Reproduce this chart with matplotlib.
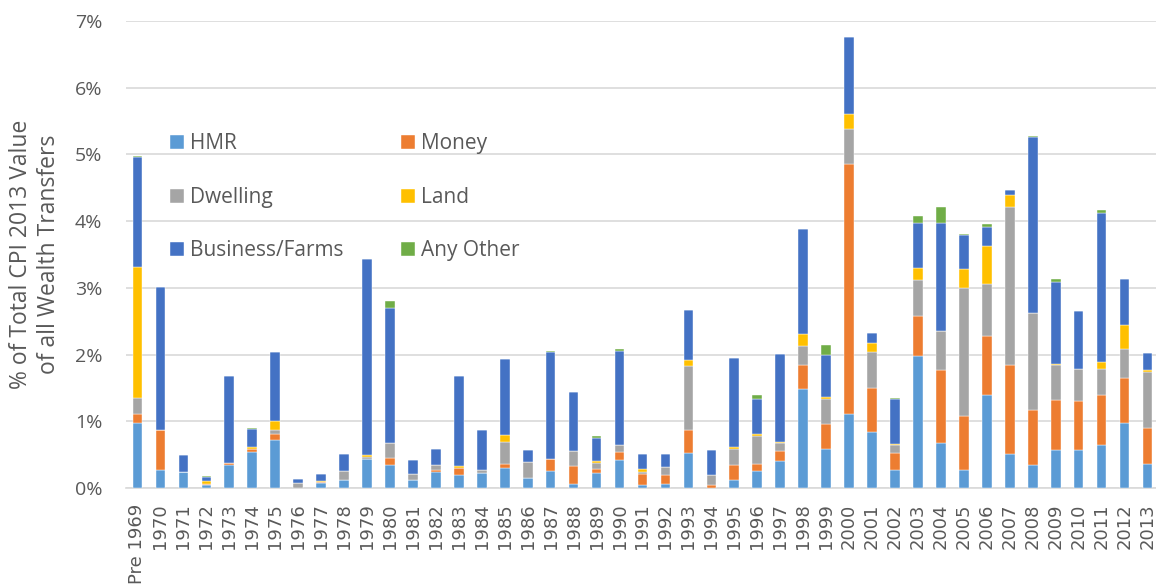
import numpy as np
import matplotlib.pyplot as plt

# ==============================
# Data (% of total CPI 2013 value)
# ==============================
years = ["Pre 1969"] + [str(y) for y in range(1970, 2014)]

hmr = [0.98, 0.265, 0.235, 0.04, 0.34, 0.54, 0.725, 0.0, 0.075, 0.115,
       0.43, 0.35, 0.115, 0.24, 0.19, 0.225, 0.30, 0.15, 0.25, 0.065,
       0.22, 0.415, 0.04, 0.065, 0.525, 0.005, 0.125, 0.25, 0.40, 1.48,
       0.59, 1.115, 0.84, 0.275, 1.98, 0.675, 0.275, 1.40, 0.505, 0.34,
       0.575, 0.575, 0.64, 0.98, 0.365]
money = [0.135, 0.60, 0.0, 0.025, 0.035, 0.045, 0.09, 0.0, 0.01, 0.0,
         0.0, 0.10, 0.0, 0.035, 0.11, 0.0, 0.065, 0.0, 0.18, 0.265,
         0.06, 0.125, 0.175, 0.135, 0.35, 0.045, 0.225, 0.115, 0.155, 0.36,
         0.375, 3.735, 0.66, 0.255, 0.60, 1.10, 0.805, 0.875, 1.335, 0.835,
         0.75, 0.725, 0.75, 0.67, 0.535]
dwelling = [0.235, 0.0, 0.0, 0.0, 0.0, 0.0, 0.05, 0.075, 0.0, 0.135,
            0.035, 0.23, 0.10, 0.065, 0.0, 0.04, 0.325, 0.235, 0.0, 0.225,
            0.09, 0.10, 0.025, 0.115, 0.955, 0.14, 0.24, 0.42, 0.125, 0.29,
            0.365, 0.535, 0.54, 0.11, 0.545, 0.575, 1.92, 0.785, 2.37, 1.455,
            0.515, 0.48, 0.39, 0.435, 0.84]
land = [1.965, 0.0, 0.0, 0.035, 0.0, 0.03, 0.14, 0.0, 0.015, 0.0,
        0.025, 0.0, 0.0, 0.0, 0.03, 0.0, 0.10, 0.0, 0.0, 0.0,
        0.035, 0.0, 0.05, 0.0, 0.095, 0.0, 0.025, 0.03, 0.01, 0.185,
        0.035, 0.22, 0.14, 0.025, 0.175, 0.0, 0.29, 0.565, 0.18, 0.0,
        0.025, 0.0, 0.105, 0.365, 0.025]
business = [1.65, 2.15, 0.255, 0.065, 1.305, 0.275, 1.035, 0.065, 0.105, 0.265,
            2.95, 2.02, 0.20, 0.25, 1.35, 0.60, 1.15, 0.18, 1.61, 0.885,
            0.35, 1.41, 0.215, 0.20, 0.75, 0.375, 1.335, 0.525, 1.325, 1.56,
            0.635, 1.15, 0.145, 0.675, 0.665, 1.615, 0.495, 0.29, 0.07, 2.635,
            1.225, 0.875, 2.23, 0.685, 0.265]
other = [0.01, 0.005, 0.0, 0.01, 0.0, 0.005, 0.0, 0.0, 0.005, 0.0,
         0.0, 0.11, 0.0, 0.0, 0.0, 0.0, 0.0, 0.005, 0.01, 0.005,
         0.03, 0.03, 0.0, 0.0, 0.0, 0.0, 0.0, 0.05, 0.0, 0.01,
         0.15, 0.005, 0.0, 0.005, 0.115, 0.25, 0.025, 0.035, 0.0, 0.01,
         0.04, 0.0, 0.05, 0.005, 0.0]

series = [("HMR", hmr, "#5B9BD5"),
          ("Money", money, "#ED7D31"),
          ("Dwelling", dwelling, "#A5A5A5"),
          ("Land", land, "#FFC000"),
          ("Business/Farms", business, "#4472C4"),
          ("Any Other", other, "#70AD47")]

# ==============================
# Plot
# ==============================
plt.rcParams['font.family'] = ['Open Sans', 'DejaVu Sans']
text_col = '#595959'

fig = plt.figure(figsize=(11.56, 5.88), dpi=100)
ax = fig.add_axes([126/1156, 1 - 488/588, 1030/1156, 467/588])

x = np.arange(len(years))
bottom = np.zeros(len(years))
handles = {}
for name, vals, col in series:
    vals = np.array(vals) / 100.0
    b = ax.bar(x, vals, 0.42, bottom=bottom, color=col, label=name,
               edgecolor='white', linewidth=0.3, zorder=3)
    handles[name] = b
    bottom += vals

ax.set_ylim(0, 0.07)
ax.set_xlim(-0.5, len(years) - 0.63)
ax.set_yticks(np.arange(0, 0.071, 0.01))
ax.set_yticklabels([f"{i}%" for i in range(8)], fontsize=14, color=text_col)
ax.set_xticks(x)
ax.set_xticklabels(years, rotation=90, fontsize=13, color=text_col,
                   family='DejaVu Sans')
ax.tick_params(axis='x', length=0, pad=11)
ax.tick_params(axis='y', length=0, pad=17)
ax.grid(axis='y', color='#D9D9D9', linewidth=1.2, zorder=0)
for s in ['top', 'right', 'left']:
    ax.spines[s].set_visible(False)
ax.spines['bottom'].set_color('#D9D9D9')
ax.spines['bottom'].set_linewidth(1.2)

ax.set_ylabel("% of Total CPI 2013 Value\nof all Wealth Transfers",
              fontsize=16.5, color=text_col, labelpad=10, linespacing=1.2)

order = ["HMR", "Dwelling", "Business/Farms", "Money", "Land", "Any Other"]
leg = ax.legend([handles[n] for n in order], order, ncol=2, loc='upper left',
                bbox_to_anchor=(0.035, 0.777), frameon=False, fontsize=15,
                handlelength=0.65, handleheight=0.65, handletextpad=0.3,
                labelspacing=1.56, columnspacing=2.75, borderaxespad=0)
for t in leg.get_texts():
    t.set_color(text_col)

fig.savefig("out.png", dpi=100)
